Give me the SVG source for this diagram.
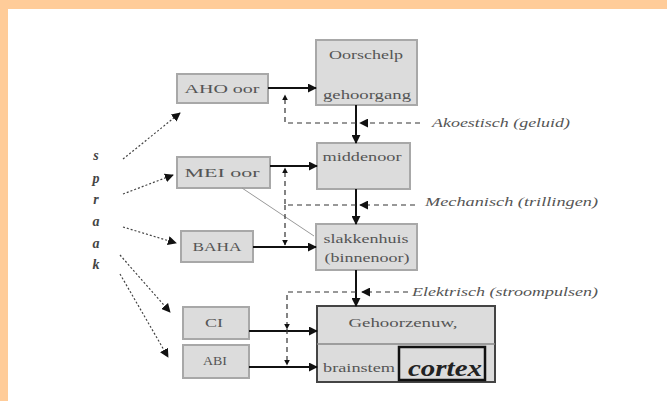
<svg xmlns="http://www.w3.org/2000/svg" width="667" height="401" viewBox="0 0 667 401">
<defs>
<style>
.box{fill:#dcdcdc;stroke:#a8a8a8;stroke-width:2}
.t{font-family:"Liberation Serif",serif;font-size:13px;fill:#555;text-anchor:middle}
.lbl{font-family:"Liberation Serif",serif;font-size:13px;font-style:italic;fill:#555}
.sp{font-family:"Liberation Serif",serif;font-size:14px;font-style:italic;font-weight:bold;fill:#444;text-anchor:middle}
.solid{stroke:#111;stroke-width:2;fill:none}
.dash{stroke:#333;stroke-width:1.2;stroke-dasharray:5,4;fill:none}
.dot{stroke:#444;stroke-width:1.2;stroke-dasharray:2,2;fill:none}
</style>
<marker id="ah" viewBox="0 0 10 10" refX="9" refY="5" markerWidth="6" markerHeight="6" orient="auto" markerUnits="userSpaceOnUse"><path d="M0,0 L10,5 L0,10 z" fill="#111"/></marker>
<marker id="ahs" viewBox="0 0 10 10" refX="9" refY="5" markerWidth="9" markerHeight="9" orient="auto" markerUnits="userSpaceOnUse"><path d="M0,0 L10,5 L0,10 z" fill="#111"/></marker>
</defs>
<rect width="667" height="401" fill="#fff"/>
<rect x="0" y="0" width="667" height="9" fill="#ffcc99"/>
<rect x="0" y="0" width="8" height="401" fill="#ffcc99"/>

<g id="oorschelp"><rect class="box" x="316" y="40" width="101" height="65"/><text class="t" x="366" y="59" textLength="74" lengthAdjust="spacingAndGlyphs">Oorschelp</text><text class="t" x="367" y="99" textLength="88" lengthAdjust="spacingAndGlyphs">gehoorgang</text></g>
<g id="aho"><rect class="box" x="177" y="74" width="91" height="29"/><text class="t" x="222" y="93" textLength="75" lengthAdjust="spacingAndGlyphs">AHO oor</text></g>
<g id="middenoor"><rect class="box" x="317" y="143" width="93" height="46"/><text class="t" x="362" y="161" textLength="79" lengthAdjust="spacingAndGlyphs">middenoor</text></g>
<g id="mei"><rect class="box" x="177" y="157" width="93" height="31"/><text class="t" x="222" y="177" textLength="75" lengthAdjust="spacingAndGlyphs">MEI oor</text></g>
<g id="slakkenhuis"><rect class="box" x="316" y="224" width="101" height="46"/><text class="t" x="366" y="243" textLength="85" lengthAdjust="spacingAndGlyphs">slakkenhuis</text><text class="t" x="367" y="262" textLength="85" lengthAdjust="spacingAndGlyphs">(binnenoor)</text></g>
<g id="baha"><rect class="box" x="181" y="231" width="72" height="31"/><text class="t" x="217" y="251" textLength="49" lengthAdjust="spacingAndGlyphs">BAHA</text></g>
<g id="ci"><rect class="box" x="183" y="307" width="66" height="32"/><text class="t" x="214" y="327" textLength="18" lengthAdjust="spacingAndGlyphs">CI</text></g>
<g id="abi"><rect class="box" x="183" y="345" width="66" height="33"/><text class="t" x="215" y="365" textLength="24" lengthAdjust="spacingAndGlyphs">ABI</text></g>
<g id="gehoorzenuw"><rect x="317" y="306" width="178" height="76" fill="#dcdcdc" stroke="#444" stroke-width="2"/><line x1="317" y1="344" x2="495" y2="344" stroke="#888" stroke-width="1.5"/><text class="t" x="403" y="327" textLength="109" lengthAdjust="spacingAndGlyphs">Gehoorzenuw,</text><text class="t" x="359" y="372" textLength="72" lengthAdjust="spacingAndGlyphs">brainstem</text></g>
<g id="cortex"><rect x="399" y="347" width="86" height="33" fill="#dcdcdc" stroke="#111" stroke-width="2.5"/><text x="445" y="376" font-family="Liberation Serif,serif" font-size="23" font-style="italic" font-weight="bold" fill="#222" text-anchor="middle" textLength="74" lengthAdjust="spacingAndGlyphs">cortex</text></g>

<g id="spraak"><text class="sp" x="96" y="160">s</text><text class="sp" x="96" y="183">p</text><text class="sp" x="96" y="204">r</text><text class="sp" x="96" y="226">a</text><text class="sp" x="96" y="248">a</text><text class="sp" x="96" y="269">k</text></g>

<g id="labels"><text class="lbl" x="432" y="127" textLength="138" lengthAdjust="spacingAndGlyphs">Akoestisch (geluid)</text><text class="lbl" x="425" y="206" textLength="173" lengthAdjust="spacingAndGlyphs">Mechanisch (trillingen)</text><text class="lbl" x="412" y="296" textLength="186" lengthAdjust="spacingAndGlyphs">Elektrisch (stroompulsen)</text></g>

<g id="connectors">
<line class="solid" x1="268" y1="88" x2="316" y2="88" marker-end="url(#ahs)"/>
<line class="solid" x1="270" y1="166" x2="317" y2="166" marker-end="url(#ahs)"/>
<line class="solid" x1="253" y1="247" x2="316" y2="247" marker-end="url(#ahs)"/>
<line class="solid" x1="249" y1="331" x2="317" y2="331" marker-end="url(#ahs)"/>
<line class="solid" x1="249" y1="367" x2="317" y2="367" marker-end="url(#ahs)"/>
<line class="solid" x1="356" y1="105" x2="356" y2="143" marker-end="url(#ahs)"/>
<line class="solid" x1="356" y1="189" x2="356" y2="224" marker-end="url(#ahs)"/>
<line class="solid" x1="356" y1="270" x2="356" y2="306" marker-end="url(#ahs)"/>
<line x1="242" y1="188" x2="314" y2="236" stroke="#999" stroke-width="1"/>
<path class="dash" d="M356,123 H285 V95" marker-end="url(#ah)"/>
<path class="dash" d="M420,123 H360" marker-end="url(#ahs)"/>
<path class="dash" d="M356,205 H285 V168" marker-end="url(#ah)"/>
<path class="dash" d="M285,205 V245" marker-end="url(#ah)"/>
<path class="dash" d="M415,205 H360" marker-end="url(#ahs)"/>
<path class="dash" d="M356,292 H287 V329" marker-end="url(#ah)"/>
<path class="dash" d="M287,329 V365" marker-end="url(#ah)"/>
<path class="dash" d="M408,292 H362" marker-end="url(#ahs)"/>
<line class="dot" x1="123" y1="159" x2="180" y2="113" marker-end="url(#ahs)"/>
<line class="dot" x1="123" y1="194" x2="173" y2="175" marker-end="url(#ahs)"/>
<line class="dot" x1="123" y1="227" x2="176" y2="243" marker-end="url(#ahs)"/>
<line class="dot" x1="120" y1="255" x2="170" y2="312" marker-end="url(#ahs)"/>
<line class="dot" x1="120" y1="274" x2="168" y2="357" marker-end="url(#ahs)"/>
</g>
</svg>
